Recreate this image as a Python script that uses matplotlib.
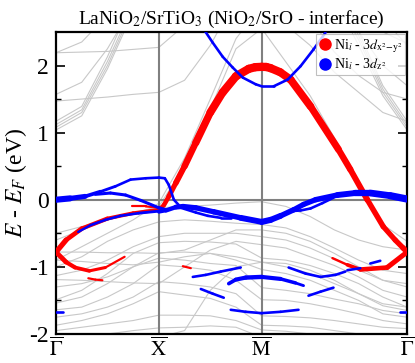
import numpy as np
import matplotlib.pyplot as plt
from matplotlib.collections import LineCollection
from matplotlib.lines import Line2D

plt.rcParams['font.family'] = ['Liberation Serif', 'DejaVu Serif']
plt.rcParams['mathtext.fontset'] = 'stix'

# --- path Γ-X-M-Γ ---
kpt_pos = [0.0, 1.0, 2.0, 3.414]
kpt_labels = [r'$\overline{\Gamma}$', r'$\overline{\mathrm{X}}$',
              r'$\overline{\mathrm{M}}$', r'$\overline{\Gamma}$']

# --- grey bands (all states), energies at the k nodes ---
grey_k = [0.0, 0.25, 0.5, 0.75, 1.0, 1.25, 1.5, 1.75, 2.0,
          2.236, 2.471, 2.707, 2.943, 3.178, 3.414]
grey_e = [
    [2.19, 2.20, 2.21, 2.24, 2.27, 2.60, 3.20, 3.50, 3.60, 3.50, 3.20, 2.90, 2.80, 2.50, 2.33],
    [2.19, 2.35, 2.75, 3.20, 3.50, 3.60, 3.70, 3.70, 3.70, 3.70, 3.60, 3.40, 3.10, 2.70, 2.30],
    [1.47, 1.50, 1.53, 1.57, 1.60, 1.78, 2.30, 3.00, 3.30, 3.10, 2.70, 2.20, 1.85, 1.60, 1.50],
    [1.57, 1.75, 2.25, 2.90, 3.50, 3.60, 3.70, 3.70, 3.70, 3.60, 3.40, 3.00, 2.50, 2.00, 1.70],
    [1.04, 1.25, 1.95, 2.80, 3.40, 3.60, 3.70, 3.70, 3.70, 3.60, 3.40, 3.00, 2.30, 1.55, 1.04],
    [1.08, 1.30, 2.00, 2.85, 3.40, 3.60, 3.70, 3.70, 3.70, 3.60, 3.40, 3.05, 2.38, 1.60, 1.08],
    [1.12, 1.34, 2.06, 2.90, 3.40, 3.60, 3.70, 3.70, 3.70, 3.60, 3.40, 3.10, 2.44, 1.65, 1.12],
    [1.17, 1.39, 2.13, 3.00, 3.40, 3.60, 3.70, 3.70, 3.70, 3.60, 3.40, 3.15, 2.50, 1.70, 1.17],
    [-0.60, -0.45, -0.30, -0.20, -0.10, 0.50, 1.35, 2.25, 2.55, 2.05, 1.55, 0.92, 0.17, -0.37, -0.62],
    [-0.90, -0.70, -0.50, -0.30, -0.05, 0.62, 1.50, 2.40, 2.90, 2.60, 2.30, 1.90, 1.60, 1.30, 1.17],
    [-0.50, -0.40, -0.30, -0.20, -0.12, -0.10, -0.08, -0.05, -0.03, -0.10, -0.25, -0.45, -0.60, -0.70, -0.75],
    [-1.00, -0.85, -0.62, -0.45, -0.33, -0.30, -0.32, -0.35, -0.37, -0.42, -0.55, -0.72, -0.90, -1.05, -1.10],
    [-0.78, -0.78, -0.79, -0.79, -0.80, -0.75, -0.60, -0.45, -0.45, -0.50, -0.62, -0.80, -1.00, -1.20, -1.30],
    [-1.13, -1.05, -0.90, -0.70, -0.55, -0.50, -0.50, -0.50, -0.55, -0.60, -0.72, -0.88, -1.05, -1.20, -1.25],
    [-1.19, -1.20, -1.22, -1.24, -1.25, -1.00, -0.75, -0.62, -0.67, -0.72, -0.85, -0.98, -1.15, -1.35, -1.45],
    [-1.49, -1.35, -1.10, -0.80, -0.64, -0.62, -0.63, -0.66, -0.87, -0.90, -0.98, -1.10, -1.25, -1.45, -1.60],
    [-1.30, -1.25, -1.15, -1.00, -0.79, -0.78, -0.80, -0.85, -0.93, -1.00, -1.10, -1.25, -1.40, -1.55, -1.60],
    [-0.90, -0.92, -0.95, -0.97, -0.93, -0.85, -0.80, -0.90, -1.04, -1.10, -1.20, -1.35, -1.50, -1.70, -1.75],
    [-1.54, -1.45, -1.25, -1.00, -0.87, -0.90, -0.95, -0.98, -1.31, -1.35, -1.40, -1.48, -1.55, -1.65, -1.70],
    [-1.64, -1.60, -1.45, -1.25, -0.97, -1.00, -1.05, -1.20, -1.49, -1.50, -1.55, -1.62, -1.70, -1.80, -1.85],
    [-1.75, -1.70, -1.60, -1.45, -1.22, -1.25, -1.30, -1.40, -1.73, -1.74, -1.76, -1.80, -1.85, -1.90, -1.92],
    [-1.87, -1.80, -1.70, -1.55, -1.37, -1.42, -1.47, -1.60, -1.87, -1.88, -1.90, -1.95, -2.00, -2.05, -2.10],
    [-1.95, -1.90, -1.85, -1.80, -1.72, -1.72, -1.73, -1.80, -1.94, -1.96, -2.00, -2.05, -2.10, -2.15, -2.20],
    [-2.10, -2.05, -2.00, -1.95, -1.91, -1.90, -1.88, -1.90, -2.05, -2.10, -2.15, -2.20, -2.25, -2.30, -2.30],
    [-2.40, -2.30, -2.20, -2.10, -2.05, -1.95, -1.35, -1.00, -0.93, -0.95, -1.05, -1.20, -1.40, -1.58, -1.65],
]

# --- Ni_i 3d x2-y2 projected bands (red): k, E, weight ---
red1_k = [0.0, 0.098, 0.25, 0.5, 0.75, 1.0, 1.049, 1.097, 1.165, 1.25, 1.359, 1.5, 1.621,
          1.75, 1.874, 1.937, 2.0, 2.045, 2.087, 2.18, 2.281, 2.475, 2.746, 2.862, 3.027,
          3.182, 3.298, 3.376, 3.414]
red1_e = [-0.78, -0.60, -0.43, -0.28, -0.20, -0.15, -0.08, 0.05, 0.25, 0.50, 0.85, 1.30, 1.60,
          1.84, 1.95, 1.975, 1.98, 1.978, 1.96, 1.90, 1.79, 1.39, 0.75, 0.45, 0.0,
          -0.40, -0.60, -0.72, -0.78]
red1_w = [0.65, 0.55, 0.5, 0.45, 0.4, 0.45, 0.5, 0.55, 0.62, 0.7, 0.8, 0.88, 0.92,
          0.95, 0.95, 0.95, 0.95, 0.95, 0.95, 0.92, 0.9, 0.85, 0.75, 0.7, 0.65,
          0.6, 0.6, 0.62, 0.65]
red2_k = [0.0, 0.098, 0.186, 0.324, 0.48, 0.667]
red2_e = [-0.78, -0.93, -1.01, -1.06, -1.01, -0.85]
red2_w = [0.6, 0.5, 0.45, 0.4, 0.3, 0.2]
red3_k = [2.688, 2.833, 2.959, 3.22, 3.414]
red3_e = [-0.87, -0.97, -1.04, -1.01, -0.78]
red3_w = [0.2, 0.35, 0.5, 0.55, 0.6]
red4_k = [0.314, 0.382, 0.451]
red4_e = [-1.17, -1.19, -1.20]
red4_w = [0.25, 0.25, 0.25]
red5_k = [0.735, 0.873, 1.019]
red5_e = [-0.10, -0.10, -0.12]
red5_w = [0.25, 0.25, 0.25]
red6_k = [1.233, 1.311]
red6_e = [-0.99, -1.02]
red6_w = [0.25, 0.25]

# --- Ni_i 3d z2 projected bands (blue): k, E, weight ---
blue1_k = [0.0, 0.137, 0.284, 0.431, 0.578, 0.725, 0.873, 1.0, 1.058, 1.097, 1.146, 1.194]
blue1_e = [0.0, 0.02, 0.05, 0.12, 0.20, 0.30, 0.32, 0.33, 0.32, 0.22, 0.0, -0.08]
blue1_w = [0.75, 0.65, 0.5, 0.35, 0.3, 0.3, 0.3, 0.3, 0.3, 0.3, 0.3, 0.3]
blue2_k = [0.382, 0.529, 0.676, 0.824, 1.0, 1.068]
blue2_e = [0.08, 0.10, 0.07, -0.01, -0.12, -0.15]
blue2_w = [0.35, 0.35, 0.35, 0.35, 0.35, 0.4]
blue3_k = [0.216, 0.333, 0.48, 0.627, 0.804, 1.0]
blue3_e = [-0.48, -0.38, -0.30, -0.24, -0.20, -0.17]
blue3_w = [0.25, 0.3, 0.3, 0.3, 0.3, 0.35]
blue4_k = [1.0, 1.068, 1.165, 1.233, 1.359, 1.534, 1.796, 2.0, 2.087, 2.184, 2.31,
           2.407, 2.523, 2.736, 2.911, 3.056, 3.25, 3.414]
blue4_e = [-0.18, -0.16, -0.11, -0.10, -0.12, -0.18, -0.27, -0.33, -0.30, -0.24, -0.15,
           -0.07, 0.0, 0.07, 0.10, 0.10, 0.06, 0.01]
blue4_w = [0.4, 0.45, 0.55, 0.6, 0.6, 0.6, 0.65, 0.7, 0.7, 0.65, 0.6,
           0.6, 0.6, 0.65, 0.7, 0.75, 0.8, 0.85]
blue5_k = [1.214, 1.359, 1.476, 1.602, 1.699]
blue5_e = [-0.12, -0.19, -0.24, -0.27, -0.27]
blue5_w = [0.3, 0.3, 0.3, 0.3, 0.3]
blue6_k = [2.281, 2.378, 2.475, 2.591, 2.698]
blue6_e = [-0.17, -0.16, -0.13, -0.05, 0.03]
blue6_w = [0.3, 0.3, 0.3, 0.3, 0.3]
blue7_k = [1.437, 1.524, 1.621, 1.718, 1.816, 1.942, 2.0, 2.116, 2.252, 2.378, 2.504, 2.62]
blue7_e = [2.54, 2.34, 2.13, 1.97, 1.82, 1.72, 1.69, 1.69, 1.79, 1.99, 2.24, 2.49]
blue7_w = [0.3] * 12
blue8_k = [1.33, 1.456, 1.602, 1.796]
blue8_e = [-1.15, -1.12, -1.07, -1.01]
blue8_w = [0.3, 0.3, 0.3, 0.3]
blue9_k = [1.408, 1.524, 1.631]
blue9_e = [-1.33, -1.40, -1.46]
blue9_w = [0.3, 0.3, 0.3]
blue10_k = [1.68, 1.748, 1.845, 2.0, 2.184, 2.329, 2.407]
blue10_e = [-1.25, -1.19, -1.16, -1.15, -1.18, -1.24, -1.28]
blue10_w = [0.4, 0.45, 0.5, 0.5, 0.45, 0.35, 0.3]
blue11_k = [1.699, 1.845, 2.0, 2.184, 2.358]
blue11_e = [-1.64, -1.67, -1.69, -1.67, -1.64]
blue11_w = [0.3, 0.3, 0.3, 0.3, 0.3]
blue12_k = [2.455, 2.572, 2.698]
blue12_e = [-1.43, -1.37, -1.31]
blue12_w = [0.3, 0.3, 0.3]
blue13_k = [2.262, 2.426, 2.572, 2.717, 2.814]
blue13_e = [-1.01, -1.10, -1.15, -1.12, -1.07]
blue13_w = [0.3, 0.3, 0.3, 0.3, 0.3]
blue14_k = [2.833, 2.959]
blue14_e = [-1.05, -1.02]
blue14_w = [0.3, 0.3]
blue15_k = [3.056, 3.153]
blue15_e = [-0.95, -0.91]
blue15_w = [0.3, 0.3]
blue16_k = [0.0, 0.069]
blue16_e = [-1.67, -1.67]
blue16_w = [0.3, 0.3]
blue17_k = [3.346, 3.414]
blue17_e = [-1.67, -1.67]
blue17_w = [0.3, 0.3]

LW_MAX = 6.3  # linewidth (pt) for weight 1


def fat_band(ax, k, e, w, color, z):
    pts = np.column_stack([k, e])
    segs = np.stack([pts[:-1], pts[1:]], axis=1)
    w = np.asarray(w)
    lw = 0.5 * (w[:-1] + w[1:]) * LW_MAX
    lc = LineCollection(segs, linewidths=lw, colors=color,
                        capstyle='round', joinstyle='round', zorder=z)
    ax.add_collection(lc)


fig = plt.figure(figsize=(4.15, 3.63), dpi=100)
ax = fig.add_axes([0.135, 0.08, 0.846, 0.832])

for e in grey_e:
    ax.plot(grey_k, e, color='#c8c8c8', lw=0.8, zorder=1)

for kp in kpt_pos[1:-1]:
    ax.axvline(kp, color='#808080', lw=1.5, zorder=2)
ax.axhline(0.0, color='#808080', lw=1.5, zorder=2)

reds = [(red1_k, red1_e, red1_w), (red2_k, red2_e, red2_w), (red3_k, red3_e, red3_w),
        (red4_k, red4_e, red4_w), (red5_k, red5_e, red5_w), (red6_k, red6_e, red6_w)]
for k, e, w in reds:
    fat_band(ax, k, e, w, '#ff0000', 3)

blues = [(blue1_k, blue1_e, blue1_w), (blue2_k, blue2_e, blue2_w), (blue3_k, blue3_e, blue3_w),
         (blue4_k, blue4_e, blue4_w), (blue5_k, blue5_e, blue5_w), (blue6_k, blue6_e, blue6_w),
         (blue7_k, blue7_e, blue7_w), (blue8_k, blue8_e, blue8_w), (blue9_k, blue9_e, blue9_w),
         (blue10_k, blue10_e, blue10_w), (blue11_k, blue11_e, blue11_w),
         (blue12_k, blue12_e, blue12_w), (blue13_k, blue13_e, blue13_w),
         (blue14_k, blue14_e, blue14_w), (blue15_k, blue15_e, blue15_w),
         (blue16_k, blue16_e, blue16_w), (blue17_k, blue17_e, blue17_w)]
for k, e, w in blues:
    fat_band(ax, k, e, w, '#0000ff', 4)

ax.set_xlim(kpt_pos[0], kpt_pos[-1])
ax.set_ylim(-2.0, 2.5)
ax.set_xticks(kpt_pos)
ax.set_xticklabels(kpt_labels, fontsize=15)
ax.tick_params(axis='x', length=0, pad=2.5)
ax.set_yticks([-2, -1, 0, 1, 2])
ax.set_yticklabels(['-2', '-1', '0', '1', '2'])
ax.set_yticks(np.arange(-1.5, 2.5, 1.0), minor=True)
ax.tick_params(axis='y', which='major', direction='in', length=6.5, width=1.2,
               labelsize=17, right=True, pad=5)
ax.tick_params(axis='y', which='minor', direction='in', length=3.5, width=1.0, right=True)
for sp in ax.spines.values():
    sp.set_linewidth(1.6)

ax.set_ylabel(r'$E$ - $E_F$ (eV)', fontsize=17, labelpad=0)
ax.set_title(r'LaNiO$_2$/SrTiO$_3$ (NiO$_2$/SrO - interface)', fontsize=14, pad=6)

handles = [Line2D([], [], ls='none', marker='o', ms=8, color='#ff0000'),
           Line2D([], [], ls='none', marker='o', ms=8, color='#0000ff')]
labels = [r'Ni$_i$ - 3$d_{\mathrm{x}^2\mathrm{-y}^2}$', r'Ni$_i$ - 3$d_{\mathrm{z}^2}$']
leg = ax.legend(handles, labels, loc='upper right', fontsize=10, frameon=True,
                fancybox=False, borderaxespad=0.15, handletextpad=0.1,
                borderpad=0.2, labelspacing=0.15, handlelength=1.0)
leg.get_frame().set_edgecolor('#b0b0b0')
leg.get_frame().set_linewidth(0.8)
leg.set_zorder(10)

fig.savefig('out.png', dpi=100)
